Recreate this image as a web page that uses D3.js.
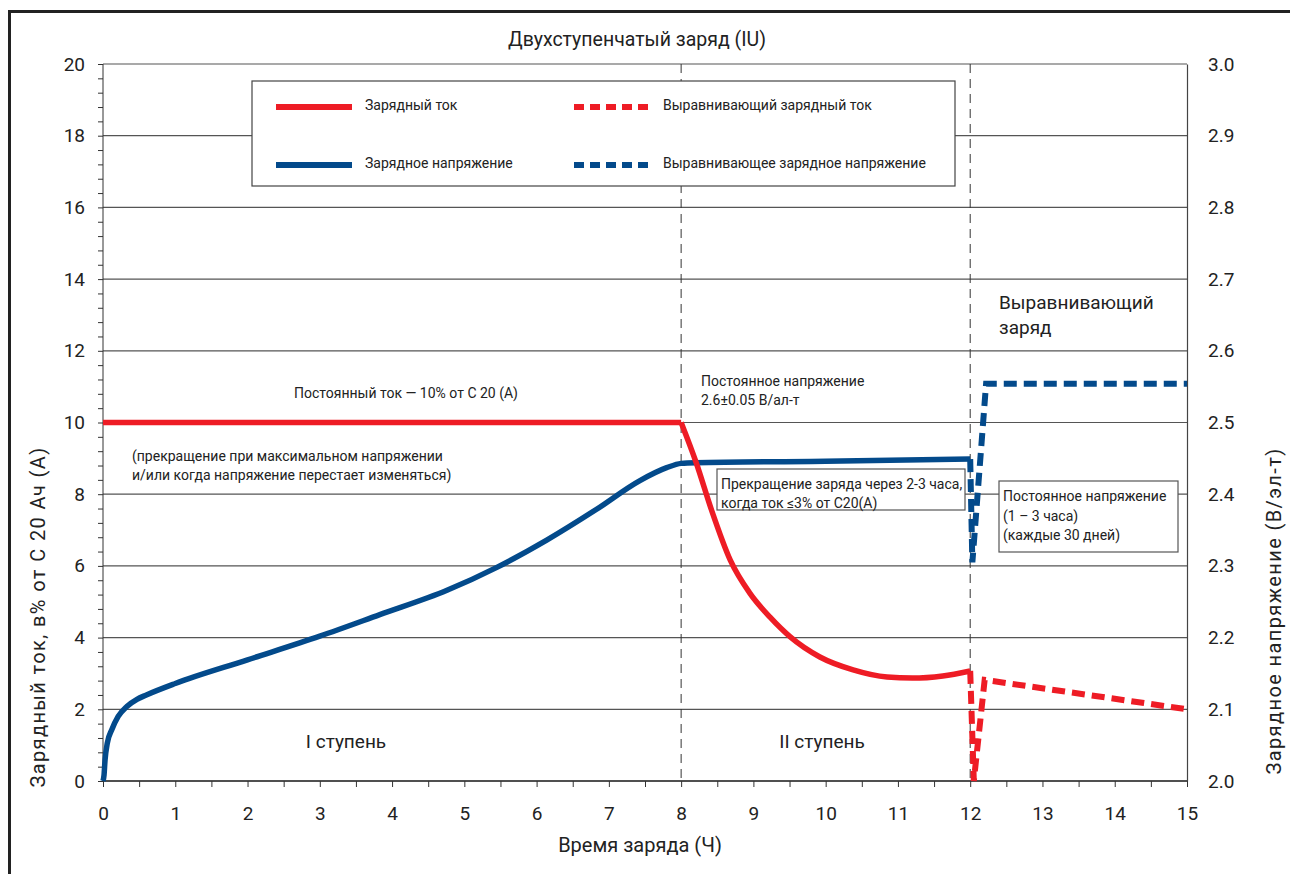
<!DOCTYPE html>
<html>
<head>
<meta charset="utf-8">
<script src="https://cdn.jsdelivr.net/npm/d3@7"></script>
<style>
  body { margin: 0; background: #fff; }
  svg { font-family: Roboto, "Noto Sans", sans-serif; }
</style>
</head>
<body>
<svg id="chart" width="1290" height="874"></svg>
<script>
// ---- data ----
var hourTicks = d3.range(0, 16);
var currentTicks = [0, 2, 4, 6, 8, 10, 12, 14, 16, 18, 20];
var voltTicks = [2.0, 2.1, 2.2, 2.3, 2.4, 2.5, 2.6, 2.7, 2.8, 2.9, 3.0];
var phaseHours = [8, 12];

// charging current, % of C20 (stage I constant, stage II decay)
var curHours = [0, 8, 8.21, 8.42, 8.68, 8.95, 9.23, 9.51, 9.92, 10.38, 10.85, 11.2, 11.62, 12];
var curPct   = [10, 10, 8.87, 7.56, 6.16, 5.24, 4.57, 4.02, 3.46, 3.10, 2.90, 2.87, 2.93, 3.07];

// charging voltage, V/cell
var voltHours = [0, 0.014, 0.028, 0.06, 0.12, 0.21, 0.33, 0.47, 0.6, 1.0, 2.0, 3.0, 3.83, 4.76, 5.45, 6.14, 6.83, 7.43, 7.8, 8.0, 8.2, 10, 12];
var voltV     = [2.0, 2.008, 2.029, 2.053, 2.071, 2.090, 2.104, 2.114, 2.120, 2.136, 2.169, 2.202, 2.232, 2.266, 2.298, 2.336, 2.379, 2.419, 2.437, 2.443, 2.444, 2.446, 2.449];

// equalizing charge
var eqCurHours = [12, 12.05, 12.2, 15];
var eqCurPct   = [3.07, 0, 2.82, 2.0];
var eqVoltHours = [12, 12.03, 12.22, 15];
var eqVoltV     = [2.449, 2.305, 2.554, 2.554];

var RED = "#ee1c25", BLUE = "#034a8b";

var svg = d3.select("#chart");
var m = { left: 103, right: 1187, top: 64, bottom: 781 };

var x = d3.scaleLinear().domain([0, 15]).range([m.left, m.right]);
var yL = d3.scaleLinear().domain([0, 20]).range([m.bottom, m.top]);
var yR = d3.scaleLinear().domain([2.0, 3.0]).range([m.bottom, m.top]);

// outer frame
svg.append("rect")
  .attr("x", 9.5).attr("y", 11.5).attr("width", 1300).attr("height", 900)
  .attr("fill", "none").attr("stroke", "#222").attr("stroke-width", 3);

// horizontal grid
svg.append("g").selectAll("line")
  .data(currentTicks)
  .enter().append("line")
  .attr("x1", m.left).attr("x2", m.right)
  .attr("y1", function(d) { return yL(d); })
  .attr("y2", function(d) { return yL(d); })
  .attr("stroke", "#555").attr("stroke-width", 1.2);

// phase separators
svg.append("g").selectAll("line")
  .data(phaseHours)
  .enter().append("line")
  .attr("x1", function(d) { return x(d); })
  .attr("x2", function(d) { return x(d); })
  .attr("y1", m.top).attr("y2", m.bottom)
  .attr("stroke", "#333").attr("stroke-width", 1)
  .attr("stroke-dasharray", "9,6");

// left axis
var leftAxis = d3.axisLeft(yL).tickValues(d3.range(0, 20.01, 0.4)).tickSize(5).tickFormat("");
var gL = svg.append("g").attr("transform", "translate(" + m.left + ",0)").call(leftAxis);
gL.selectAll("line").attr("stroke", "#333");
gL.select(".domain").attr("stroke", "#333").attr("d", "M0," + m.bottom + "V" + m.top);
var gLL = svg.append("g").attr("transform", "translate(" + m.left + ",0)")
  .call(d3.axisLeft(yL).tickValues(currentTicks).tickSize(0).tickPadding(18));
gLL.select(".domain").remove();
gLL.selectAll("text").attr("font-size", 19).attr("fill", "#222").attr("font-family", "Roboto, sans-serif");

// right axis
var gR = svg.append("g").attr("transform", "translate(" + m.right + ",0)")
  .call(d3.axisRight(yR).tickValues(voltTicks).tickSize(0).tickPadding(21).tickFormat(d3.format(".1f")));
gR.select(".domain").attr("stroke", "#444").attr("stroke-width", 1.2);
gR.selectAll("text").attr("font-size", 19).attr("fill", "#222").attr("font-family", "Roboto, sans-serif");

// bottom axis
var gB = svg.append("g").attr("transform", "translate(0," + m.bottom + ")")
  .call(d3.axisBottom(x).tickValues(d3.range(0, 15.01, 0.5)).tickSize(6).tickFormat(""));
gB.selectAll("line").attr("stroke", "#333");
gB.select(".domain").attr("stroke", "#333").attr("stroke-width", 1.4).attr("d", "M" + m.left + ",0H" + m.right);
var gBL = svg.append("g").attr("transform", "translate(0," + m.bottom + ")")
  .call(d3.axisBottom(x).tickValues(hourTicks).tickSize(0).tickPadding(26));
gBL.select(".domain").remove();
gBL.selectAll("text").attr("font-size", 19).attr("fill", "#222").attr("font-family", "Roboto, sans-serif");

// legend box (drawn before curves)
var leg = svg.append("g");
leg.append("rect").attr("x", 252).attr("y", 81).attr("width", 703).attr("height", 105)
  .attr("fill", "#fff").attr("stroke", "#444").attr("stroke-width", 1.2);
var legItems = [
  { lx: 276, ly: 107, text: "Зарядный ток", color: RED, dash: null },
  { lx: 276, ly: 165, text: "Зарядное напряжение", color: BLUE, dash: null },
  { lx: 574, ly: 107, text: "Выравнивающий зарядный ток", color: RED, dash: "10,6" },
  { lx: 574, ly: 165, text: "Выравнивающее зарядное напряжение", color: BLUE, dash: "10,6" }
];
legItems.forEach(function(d) {
  leg.append("line").attr("x1", d.lx).attr("x2", d.lx + 76)
    .attr("y1", d.ly).attr("y2", d.ly)
    .attr("stroke", d.color).attr("stroke-width", 6)
    .attr("stroke-dasharray", d.dash);
  leg.append("text").attr("x", d.lx + 89).attr("y", d.ly + 3)
    .attr("font-size", 14).attr("fill", "#222").text(d.text);
});

// annotations boxes
function box(x0, y0, w, h, lines, lh) {
  var g = svg.append("g");
  g.append("rect").attr("x", x0).attr("y", y0).attr("width", w).attr("height", h)
    .attr("fill", "#fff").attr("stroke", "#555").attr("stroke-width", 1.2);
  lines.forEach(function(t, i) {
    g.append("text").attr("x", x0 + 4).attr("y", y0 + 20 + i * lh)
      .attr("font-size", 14).attr("fill", "#222").text(t);
  });
}
box(717, 469, 248, 41, ["Прекращение заряда через 2-3 часа,", "когда ток ≤3% от  С20(А)"], 19);
box(999, 481, 179, 71, ["Постоянное напряжение", "(1 – 3 часа)", "(каждые 30 дней)"], 19.5);

// curves
var lineCur = d3.line().x(function(d) { return x(d[0]); }).y(function(d) { return yL(d[1]); });
var lineVolt = d3.line().x(function(d) { return x(d[0]); }).y(function(d) { return yR(d[1]); });

var cur = d3.zip(curHours, curPct);
var volt = d3.zip(voltHours, voltV);
var eqCur = d3.zip(eqCurHours, eqCurPct);
var eqVolt = d3.zip(eqVoltHours, eqVoltV);

svg.append("path").attr("d", lineVolt.curve(d3.curveMonotoneX)(volt))
  .attr("fill", "none").attr("stroke", BLUE).attr("stroke-width", 5.5);

svg.append("path").attr("d", lineVolt.curve(d3.curveLinear)(eqVolt))
  .attr("fill", "none").attr("stroke", BLUE).attr("stroke-width", 6)
  .attr("stroke-dasharray", "13,7");

svg.append("path").attr("d", lineCur.curve(d3.curveLinear)(cur.slice(0, 2)))
  .attr("fill", "none").attr("stroke", RED).attr("stroke-width", 5.5);
svg.append("path").attr("d", lineCur.curve(d3.curveMonotoneX)(cur.slice(1)))
  .attr("fill", "none").attr("stroke", RED).attr("stroke-width", 5.5);

svg.append("path").attr("d", lineCur.curve(d3.curveLinear)(eqCur))
  .attr("fill", "none").attr("stroke", RED).attr("stroke-width", 6)
  .attr("stroke-dasharray", "13,7");

// texts
function txt(x0, y0, t, size, anchor) {
  return svg.append("text").attr("x", x0).attr("y", y0)
    .attr("font-size", size).attr("fill", "#222")
    .attr("text-anchor", anchor || "start").text(t);
}
txt(637, 46, "Двухступенчатый заряд (IU)", 19.5, "middle");
txt(406, 398, "Постоянный ток — 10% от С 20 (А)", 14, "middle");
txt(132, 461, "(прекращение при максимальном напряжении", 14);
txt(132, 480, "и/или когда напряжение перестает изменяться)", 14);
txt(701, 386, "Постоянное напряжение", 14);
txt(701, 405, "2.6±0.05 В/ал-т", 14);
txt(999, 309, "Выравнивающий", 19);
txt(999, 334, "заряд", 19);
txt(346, 748, "I ступень", 19, "middle");
txt(822, 748, "II ступень", 19, "middle");
txt(640, 852, "Время заряда (Ч)", 20, "middle");

svg.append("text").attr("transform", "translate(45,617) rotate(-90)")
  .attr("text-anchor", "middle").attr("font-size", 20).attr("letter-spacing", 1.4).attr("fill", "#222")
  .text("Зарядный ток, в% от С 20 Ач (А)");
svg.append("text").attr("transform", "translate(1281,611) rotate(-90)")
  .attr("text-anchor", "middle").attr("font-size", 20).attr("letter-spacing", 1.4).attr("fill", "#222")
  .text("Зарядное напряжение (В/эл-т)");
</script>
</body>
</html>
